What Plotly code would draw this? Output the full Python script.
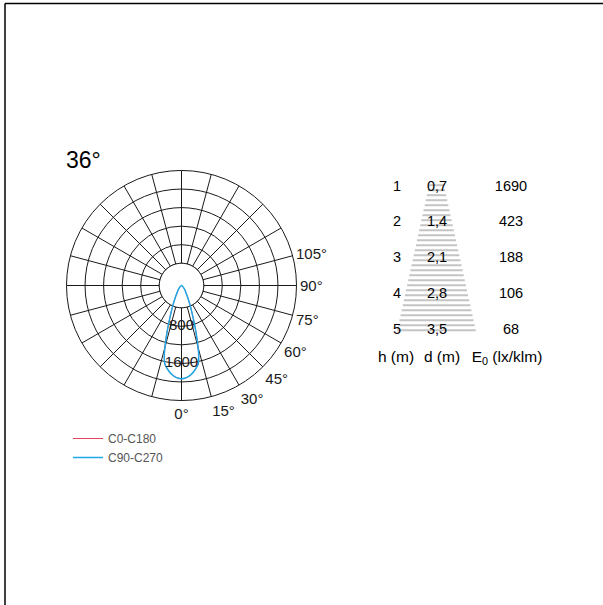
import plotly.graph_objects as go

# ---------------- data ----------------
# photometric curve (cd/klm) vs angle (deg)
# (radial axis origin sits at -80, so the curve's end points reach the centre)
R_ORIGIN = -80
curve_angles = [-50, -40, -34, -30, -28, -26, -24, -22, -20, -18, -16, -14, -12, -10, -8,
                -6, -4, -2, 0, 2, 4, 6, 8, 10, 12, 14, 16, 18, 20, 22, 24, 26, 28, 30,
                34, 40, 50]
c0_c180 = [R_ORIGIN, 20, 70, 130, 190, 260, 360, 480, 640, 870, 1150, 1450, 1650, 1730, 1800,
           1855, 1895, 1920, 1930, 1920, 1895, 1855, 1800, 1730, 1650, 1450, 1150, 870,
           640, 480, 360, 260, 190, 130, 70, 20, R_ORIGIN]
c90_c270 = [R_ORIGIN, 20, 70, 130, 190, 260, 360, 480, 640, 870, 1150, 1450, 1650, 1730, 1800,
            1855, 1895, 1920, 1930, 1920, 1895, 1855, 1800, 1730, 1650, 1450, 1150, 870,
            640, 480, 360, 260, 190, 130, 70, 20, R_ORIGIN]

radial_ticks = [400, 800, 1200, 1600, 2000]
radial_max = 2400
radial_labels_vals = [800, 1600]
angle_ticks = list(range(0, 360, 15))
angle_labels = ["0°", "15°", "30°", "45°", "60°", "75°", "90°", "105°"]

# table
h_m = [1, 2, 3, 4, 5]
d_m = ["0,7", "1,4", "2,1", "2,8", "3,5"]
e0 = [1690, 423, 188, 106, 68]
d_per_m = 0.7
headers = ["h (m)", "d (m)", "E<sub>0</sub> (lx/klm)"]

# ---------------- layout constants ----------------
W, H = 603, 605
FONT = "Liberation Sans, Arial, Helvetica, sans-serif"
BLACK = "#1a1a1a"
RED = "#e8435a"
BLUE = "#1fa7e6"
cx, cy, R = 181.5, 285.5, 115.0

fig = go.Figure()

# white disk hiding the spokes near the centre
disk_theta = list(range(0, 361, 5))
fig.add_trace(go.Scatterpolar(r=[radial_ticks[0]] * len(disk_theta), theta=disk_theta,
                              mode="lines", fill="toself", fillcolor="white",
                              line=dict(color=BLACK, width=1), showlegend=False,
                              hoverinfo="skip"))
fig.add_trace(go.Scatterpolar(r=c0_c180, theta=curve_angles, mode="lines",
                              line=dict(color=RED, width=1, shape="spline", smoothing=0.6),
                              name="C0-C180"))
fig.add_trace(go.Scatterpolar(r=c90_c270, theta=curve_angles, mode="lines",
                              line=dict(color=BLUE, width=1.5, shape="spline", smoothing=0.6),
                              name="C90-C270"))
fig.add_trace(go.Scatterpolar(r=radial_labels_vals, theta=[0] * len(radial_labels_vals),
                              mode="text", text=[str(v) for v in radial_labels_vals],
                              textfont=dict(size=15, color=BLACK, family=FONT),
                              showlegend=False, hoverinfo="skip", cliponaxis=False))

# ---- table (cartesian axis: x in px across table, y in metres of height) ----
col_x = [397, 437, 511]
head_x = [396, 442, 507]
row_px0, px_per_m = 187.0, 35.75
hw_per_d = 11.2
cone_cx = 436.5

# cone of light drawn as thin grey lines
cone_x, cone_y = [], []
hh = 0.95
while hh <= 5.12:
    hw = hw_per_d * d_per_m * hh
    cone_x += [cone_cx - hw, cone_cx + hw, None]
    cone_y += [hh, hh, None]
    hh += 5.0 / px_per_m
fig.add_trace(go.Scatter(x=cone_x, y=cone_y, mode="lines", xaxis="x", yaxis="y",
                         line=dict(color="#c4c4c4", width=2), showlegend=False,
                         hoverinfo="skip"))

for xi, vals in zip(col_x, [[str(v) for v in h_m], d_m, [str(v) for v in e0]]):
    fig.add_trace(go.Scatter(x=[xi] * len(h_m), y=h_m, mode="text", text=vals,
                             xaxis="x", yaxis="y",
                             textfont=dict(size=14.5, color="black", family=FONT),
                             showlegend=False, hoverinfo="skip"))
head_h = 1 + (358 - row_px0) / px_per_m
fig.add_trace(go.Scatter(x=head_x, y=[head_h] * 3, mode="text", text=headers,
                         xaxis="x", yaxis="y",
                         textfont=dict(size=15.5, color="black", family=FONT),
                         showlegend=False, hoverinfo="skip"))

tab_top, tab_bot = 170.0, 372.0
tab_left, tab_right = 370.0, 560.0
h_top = 1 + (tab_top - row_px0) / px_per_m
h_bot = 1 + (tab_bot - row_px0) / px_per_m

fig.update_layout(
    width=W, height=H,
    margin=dict(l=0, r=0, t=0, b=0),
    paper_bgcolor="white", plot_bgcolor="white",
    font=dict(family=FONT, color=BLACK),
    polar=dict(
        domain=dict(x=[(cx - R) / W, (cx + R) / W], y=[(H - cy - R) / H, (H - cy + R) / H]),
        bgcolor="white",
        radialaxis=dict(range=[R_ORIGIN, radial_max], tickmode="array", tickvals=radial_ticks,
                        showticklabels=False, showline=False, ticks="",
                        gridcolor=BLACK, gridwidth=1),
        angularaxis=dict(rotation=270, direction="counterclockwise", tickmode="array",
                         tickvals=angle_ticks,
                         ticktext=angle_labels + [" "] * (len(angle_ticks) - len(angle_labels)),
                         showline=True, linecolor=BLACK, linewidth=1,
                         gridcolor=BLACK, gridwidth=1, ticks="",
                         tickfont=dict(size=15, color=BLACK, family=FONT)),
    ),
    xaxis=dict(domain=[tab_left / W, tab_right / W], range=[tab_left, tab_right],
               visible=False, fixedrange=True),
    yaxis=dict(domain=[(H - tab_bot) / H, (H - tab_top) / H], range=[h_bot, h_top],
               visible=False, fixedrange=True),
    legend=dict(x=68 / W, y=(H - 424) / H, xanchor="left", yanchor="top",
                font=dict(size=12, color="#555555", family=FONT),
                bgcolor="rgba(0,0,0,0)", itemwidth=30),
    annotations=[dict(text="36°", x=64 / W, y=(H - 160) / H, xref="paper", yref="paper",
                      xanchor="left", yanchor="middle", showarrow=False,
                      font=dict(size=23, color="black", family=FONT))],
    shapes=[
        dict(type="line", xref="paper", yref="paper", x0=5 / W, x1=1, y0=1 - 3.5 / H,
             y1=1 - 3.5 / H, line=dict(color="black", width=1.5)),
        dict(type="line", xref="paper", yref="paper", x0=5 / W, x1=5 / W, y0=1 - 3.5 / H,
             y1=0, line=dict(color="black", width=1.5)),
    ],
)

fig.write_html("out.html", config={"displayModeBar": False},
               post_script="document.body.style.margin='0';document.body.style.overflow='hidden';")
